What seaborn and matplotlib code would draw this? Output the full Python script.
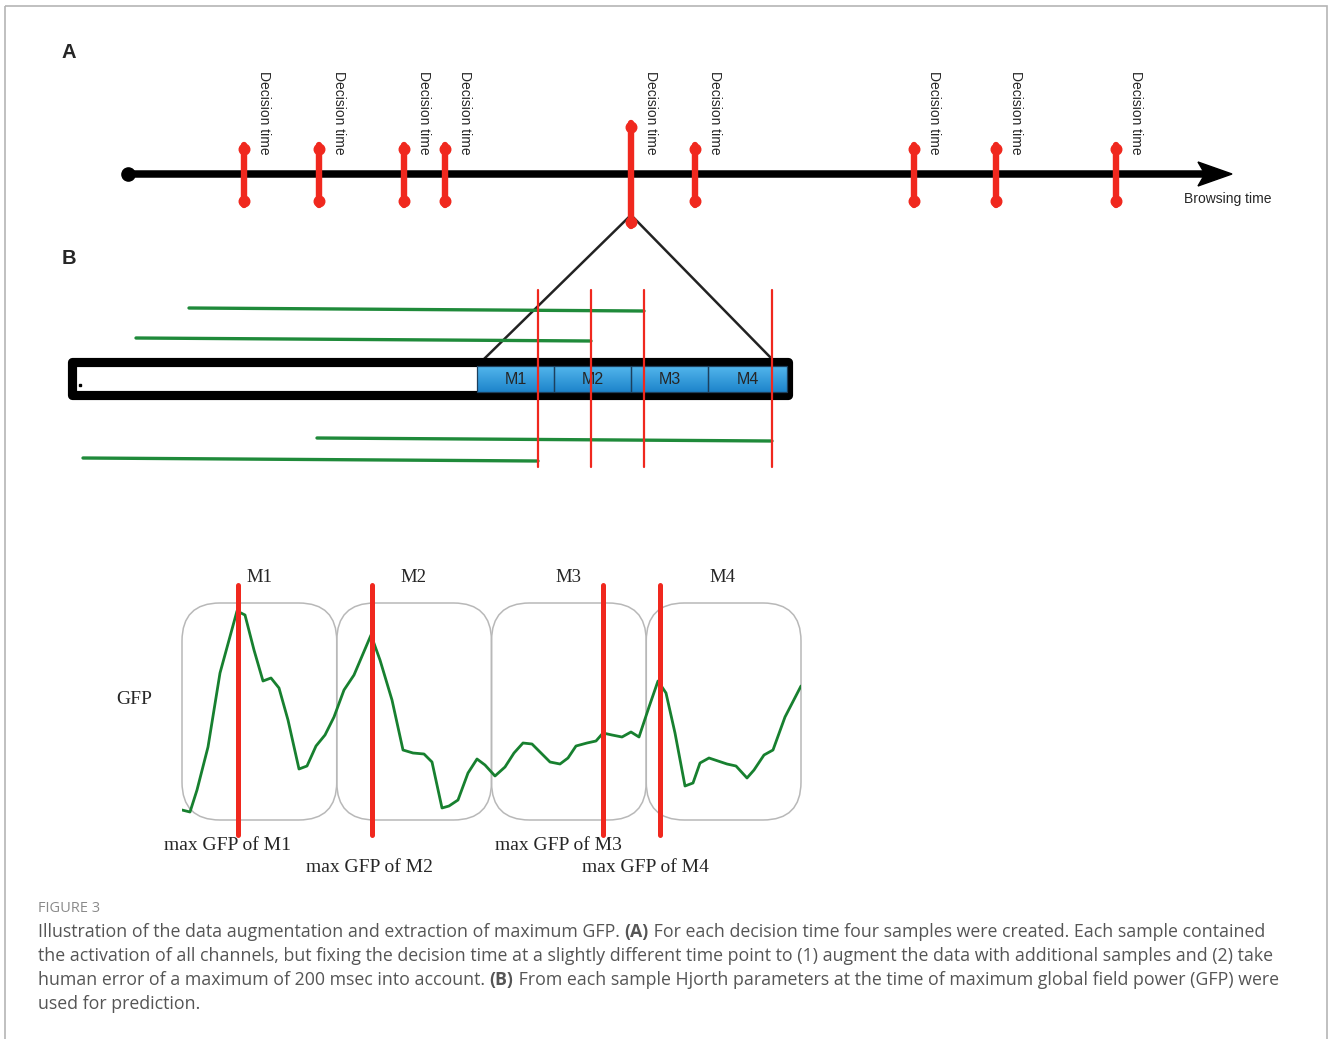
import matplotlib
matplotlib.use("Agg")
import matplotlib.pyplot as plt
from matplotlib.patches import Rectangle, FancyBboxPatch, Polygon
import numpy as np
import pandas as pd
import seaborn as sns

# panel A: decision times along the browsing timeline (canvas px)
decision_times = [244, 319, 404, 445, 631, 695, 914, 996, 1116]
zoomed_decision = 631
timeline_start, timeline_end = 128, 1232
timeline_y = 174

# panel B: four samples per decision, each fixed at a slightly shifted time
shift_times = [538, 591, 644, 772]
sample_ends = [644, 591, 772, 538]
sample_rows = [308, 338, 438, 458]
sample_length = 455
segment_names = ["M1", "M2", "M3", "M4"]
segment_edges = [477, 554, 631, 708, 787]

# panel C: GFP trace over the four segments
gfp_time = [0, 8, 15, 26, 38, 55, 63, 72, 81, 89, 97, 106, 117, 125, 134, 143,
            152, 162, 172, 189, 198, 210, 221, 231, 242, 250, 260, 267, 276, 286,
            295, 303, 313, 323, 332, 341, 350, 359, 368, 378, 386, 394, 405, 414,
            421, 430, 440, 449, 457, 467, 476, 484, 493, 503, 511, 518, 527, 536,
            545, 554, 565, 572, 582, 591, 603, 619]
gfp_value = [10, 8, 30, 73, 147, 209, 205, 170, 139, 142, 132, 100, 51, 54, 74, 85,
             103, 130, 145, 185, 160, 120, 70, 67, 66, 58, 12, 14, 20, 47,
             61, 55, 44, 53, 67, 77, 76, 67, 58, 56, 62, 74, 77, 79,
             87, 85, 83, 88, 83, 113, 139, 127, 87, 34, 37, 57, 62, 59,
             56, 54, 42, 50, 65, 70, 103, 134]
max_gfp_time = [56, 190, 421, 478]
max_labels = ["max GFP of M1", "max GFP of M2", "max GFP of M3", "max GFP of M4"]

RED = "#f0281e"
GREEN = "#1f8a3a"
DARKGREEN = "#17802f"

sns.set_theme(style="white")
plt.rcParams["font.family"] = ["Liberation Sans", "DejaVu Sans"]

fig = plt.figure(figsize=(13.28, 10.39), dpi=100)
ax = fig.add_axes([0, 0, 1, 1])
ax.set_xlim(0, 1328)
ax.set_ylim(1039, 0)
ax.axis("off")

# outer frame
ax.add_patch(Rectangle((4.5, 5.5), 1322, 1040, fill=False, ec="#b5b5b5", lw=1.2, clip_on=False))

# ---- panel A ----
ax.text(69, 52, "A", fontsize=14.5, fontweight="bold", ha="center", va="center")
ax.plot([timeline_start, timeline_end - 25], [timeline_y, timeline_y], color="black",
        lw=5.4, solid_capstyle="round", zorder=2)
ax.plot([timeline_start], [timeline_y], "o", color="black", ms=9.5, zorder=2)
ax.add_patch(Polygon([[timeline_end - 34, timeline_y - 12], [timeline_end, timeline_y],
                      [timeline_end - 34, timeline_y + 12], [timeline_end - 27, timeline_y]],
                     closed=True, color="black", zorder=2))
ax.text(1228, 199, "Browsing time", fontsize=10, ha="center", va="center")

for t in decision_times:
    top, bot = (123, 226) if t == zoomed_decision else (145, 205)
    ax.plot([t, t], [top, bot], color=RED, lw=4.6, solid_capstyle="round", zorder=3)
    ax.plot([t, t], [top + 4, bot - 4], "o", color=RED, ms=7.6, zorder=3)
    ax.text(t + 20, 71, "Decision time", rotation=-90, fontsize=10,
            ha="center", va="top")

# ---- panel B ----
ax.text(69, 258, "B", fontsize=14.5, fontweight="bold", ha="center", va="center")

ax.plot([zoomed_decision, 483], [215, 360], color="#222222", lw=1.8, zorder=2)
ax.plot([zoomed_decision, 770], [215, 357], color="#222222", lw=1.8, zorder=2)

# rough black strip outline
box = Rectangle((72, 362), 716, 33, fill=False, ec="black", lw=6.6, joinstyle="round", zorder=4)
ax.add_patch(box)
for sk in [(1.6, 4, 6), (2.0, 2.5, 8)]:
    fuzz = Rectangle((72, 362), 716, 33, fill=False, ec="black", lw=1.6,
                     joinstyle="round", zorder=4)
    fuzz.set_sketch_params(*sk)
    ax.add_patch(fuzz)
ax.plot([80], [385], "s", color="black", ms=1.5)

# blue segments with a light-to-dark gradient
grad = np.linspace(0, 1, 50).reshape(-1, 1)
cmap = matplotlib.colors.LinearSegmentedColormap.from_list("b", ["#52b6ec", "#1e84cb"])
ax.imshow(grad, extent=(segment_edges[0], segment_edges[-1], 392, 366), cmap=cmap,
          aspect="auto", zorder=5)
for i, name in enumerate(segment_names):
    x0, x1 = segment_edges[i], segment_edges[i + 1]
    ax.add_patch(Rectangle((x0, 366), x1 - x0, 26, fill=False, ec="#1d3f5c", lw=0.9, zorder=5))
    ax.text((x0 + x1) / 2, 380, name, fontsize=11.5, ha="center", va="center", zorder=6)

for s in shift_times:
    ax.plot([s, s], [290, 467], color=RED, lw=1.6, zorder=7)

samples = pd.DataFrame({
    "sample": np.repeat(np.arange(4), 2),
    "x": [v for e in sample_ends for v in (e - sample_length, e)],
    "y": [v for r in sample_rows for v in (r, r + 3)],
})
sns.lineplot(data=samples, x="x", y="y", units="sample", estimator=None,
             color=GREEN, lw=2.4, ax=ax, legend=False, zorder=6)

# ---- panel C ----
for i, name in enumerate(segment_names):
    ax.text(259 + 154.5 * i, 577, name, fontsize=13.5, family="Liberation Serif",
            ha="center", va="center")
ax.text(134, 700, "GFP", fontsize=14, family="Liberation Serif", ha="center", va="center")
label_pos = [(228, 846), (370, 868), (558, 846), (645, 868)]
for (lx, ly), lab in zip(label_pos, max_labels):
    ax.text(lx, ly, lab, fontsize=14, family="Liberation Serif", ha="center", va="center")

gx = fig.add_axes([182 / 1328, 1 - 820 / 1039, 619 / 1328, 217 / 1039])
gx.patch.set_alpha(0)
w = 619 / 4
for i in range(4):
    gx.add_patch(FancyBboxPatch((i * w, 0), w, 217, boxstyle="round,pad=0,rounding_size=38",
                                fill=False, ec="#b8b8b8", lw=1.1, clip_on=False))
sns.lineplot(x=gfp_time, y=gfp_value, color=DARKGREEN, lw=2, ax=gx, zorder=3)
for t in max_gfp_time:
    gx.plot([t, t], [-15, 235], color=RED, lw=3.6, clip_on=False, zorder=4)
gx.set_xlim(0, 619)
gx.set_ylim(0, 217)
gx.axis("off")

# ---- caption ----
cap_font = ["Open Sans", "DejaVu Sans"]
cap_col = "#555555"
cap_size = 12.8
ax.text(38, 908, "FIGURE 3", fontsize=10.5, color="#8a8a8a", family=cap_font, va="center")
caption = [
    [("Illustration of the data augmentation and extraction of maximum GFP. ", "normal"),
     ("(A)", "bold"),
     (" For each decision time four samples were created. Each sample contained", "normal")],
    [("the activation of all channels, but fixing the decision time at a slightly different "
      "time point to (1) augment the data with additional samples and (2) take", "normal")],
    [("human error of a maximum of 200 msec into account. ", "normal"),
     ("(B)", "bold"),
     (" From each sample Hjorth parameters at the time of maximum global field power (GFP) were", "normal")],
    [("used for prediction.", "normal")],
]
for k, segs in enumerate(caption):
    yb = 941 + 24 * k
    prev = None
    for txt, wt in segs:
        if prev is None:
            prev = ax.text(38, yb, txt, fontsize=cap_size, color=cap_col, family=cap_font,
                           fontweight=wt, va="bottom", ha="left")
        else:
            prev = ax.annotate(txt, xy=(1, 0), xycoords=prev, fontsize=cap_size, color=cap_col,
                               family=cap_font, fontweight=wt, va="bottom", ha="left")

fig.savefig("out.png", dpi=100)
